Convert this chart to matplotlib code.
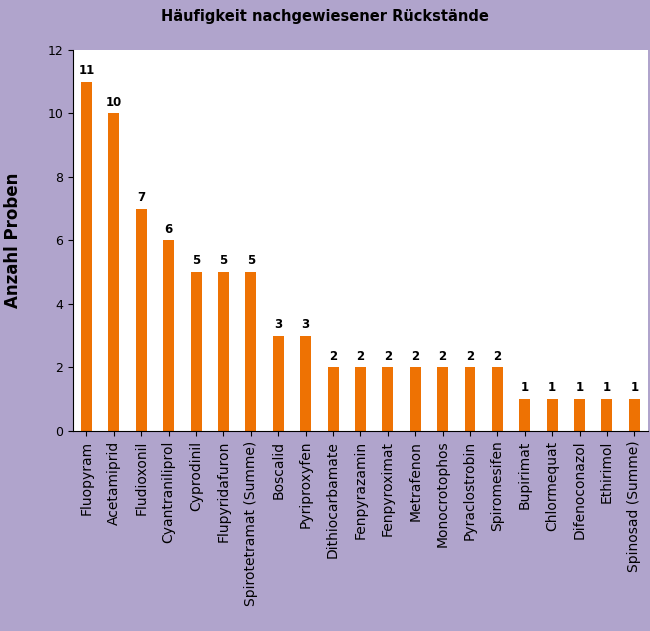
import matplotlib.pyplot as plt

categories = ["Fluopyram", "Acetamiprid", "Fludioxonil", "Cyantraniliprol", "Cyprodinil",
              "Flupyridafuron", "Spirotetramat (Summe)", "Boscalid", "Pyriproxyfen",
              "Dithiocarbamate", "Fenpyrazamin", "Fenpyroximat", "Metrafenon",
              "Monocrotophos", "Pyraclostrobin", "Spiromesifen", "Bupirimat",
              "Chlormequat", "Difenoconazol", "Ethirimol", "Spinosad (Summe)"]
counts = [11, 10, 7, 6, 5, 5, 5, 3, 3, 2, 2, 2, 2, 2, 2, 2, 1, 1, 1, 1, 1]

bg = "#B0A4CC"
fig = plt.figure(figsize=(6.5, 6.31), dpi=100, facecolor=bg)
ax = fig.add_axes([0.112, 0.317, 0.885, 0.604])
ax.set_facecolor("white")

x = range(len(categories))
ax.bar(x, counts, width=0.4, color="#EE7203", zorder=2)
for i, v in zip(x, counts):
    ax.text(i, v + 0.15, str(v), ha="center", va="bottom", fontsize=8.5, fontweight="bold")

ax.set_xlim(-0.5, len(categories) - 0.5)
ax.set_ylim(0, 12)
ax.set_yticks(range(0, 13, 2))
ax.set_xticks(list(x))
ax.set_xticklabels(categories, rotation=90, fontsize=10)
ax.tick_params(axis="y", labelsize=9)
for s in ["top", "right"]:
    ax.spines[s].set_visible(False)

ax.set_ylabel("Anzahl Proben", fontsize=12, fontweight="bold", labelpad=18)
fig.suptitle("Häufigkeit nachgewiesener Rückstände", fontsize=10.5, fontweight="bold", y=0.985)

fig.savefig("out.png", dpi=100, facecolor=bg)
